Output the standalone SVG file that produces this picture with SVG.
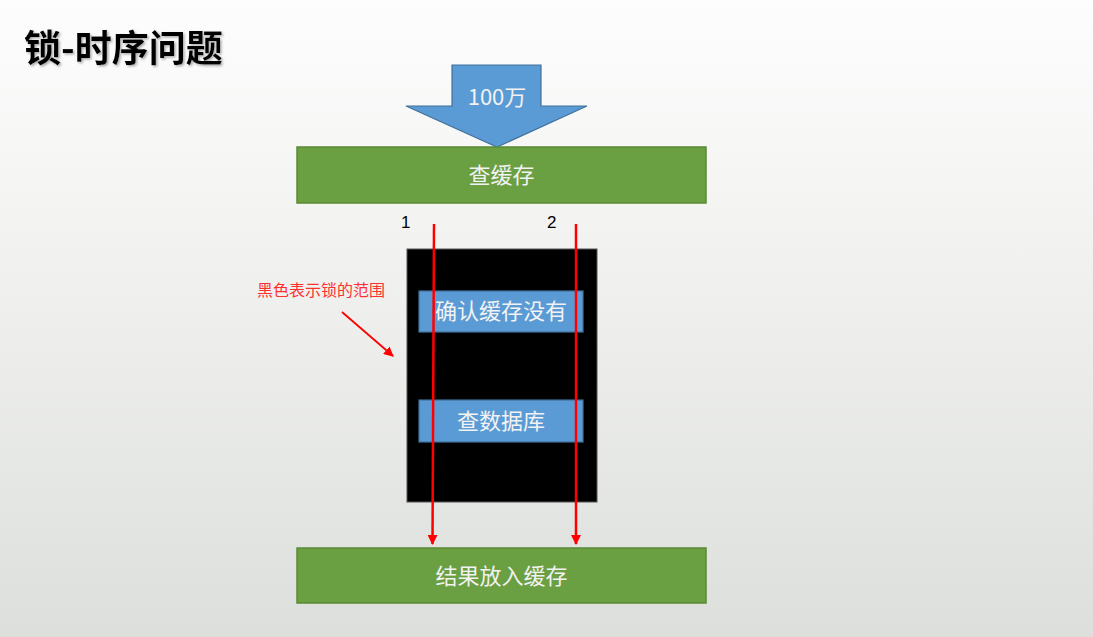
<svg xmlns="http://www.w3.org/2000/svg" width="1093" height="637" viewBox="0 0 1093 637">
<defs>
<linearGradient id="bg" x1="0" y1="0" x2="0" y2="1">
<stop offset="0" stop-color="#fdfdfd"/>
<stop offset="0.35" stop-color="#f3f4f2"/>
<stop offset="1" stop-color="#dddfdc"/>
</linearGradient>
<marker id="ah" viewBox="0 0 10 10" refX="9" refY="5" markerWidth="4" markerHeight="4" orient="auto" markerUnits="strokeWidth">
<path d="M0,0 L10,5 L0,10 z" fill="#ff0000"/>
</marker>
<marker id="ah2" viewBox="0 0 10 10" refX="9" refY="5" markerWidth="5.5" markerHeight="5.5" orient="auto" markerUnits="strokeWidth">
<path d="M0,0 L10,5 L0,10 z" fill="#ff0000"/>
</marker>
<filter id="sh" x="-5%" y="-20%" width="110%" height="140%">
<feDropShadow dx="1.5" dy="1.5" stdDeviation="0.8" flood-color="#888" flood-opacity="0.7"/>
</filter>
</defs>
<style>
.green{fill:#6a9f42;stroke:#5a8a36;stroke-width:1.5}
.blue{fill:#5b9bd5;stroke:#41719c;stroke-width:1.2}
.lbl{font-family:"Noto Sans CJK SC","Noto Sans",sans-serif;font-size:22px;fill:#f2f2f2;text-anchor:middle}
.num{font-family:"Liberation Sans",Arial,sans-serif;font-size:17px;fill:#000}
.conn{stroke:#ff0000;stroke-width:2.5;fill:none}
</style>
<rect width="1093" height="637" fill="url(#bg)"/>
<text x="24" y="62" font-family="'Noto Sans CJK SC','Noto Sans',sans-serif" font-size="37" font-weight="bold" fill="#000" filter="url(#sh)">锁-时序问题</text>

<g id="input-arrow">
<path class="blue" d="M452,65 L541,65 L541,106 L587,106 L497,147 L406,106 L452,106 z"/>
<text class="lbl" x="497" y="105">100万</text>
</g>

<g id="check-cache">
<rect class="green" x="297" y="147" width="409" height="56"/>
<text class="lbl" x="501.5" y="183">查缓存</text>
</g>

<g id="lock-scope">
<rect x="407" y="249" width="190" height="253" fill="#000" stroke="#555" stroke-width="1"/>
</g>

<g id="confirm-cache">
<rect class="blue" x="419" y="291" width="164" height="41"/>
<text class="lbl" x="501" y="319">确认缓存没有</text>
</g>

<g id="query-db">
<rect class="blue" x="419" y="400" width="164" height="42"/>
<text class="lbl" x="501" y="429">查数据库</text>
</g>

<g id="put-cache">
<rect class="green" x="297" y="548" width="409" height="55"/>
<text class="lbl" x="501.5" y="584">结果放入缓存</text>
</g>

<g id="labels">
<text class="num" x="401" y="228">1</text>
<text class="num" x="547" y="228">2</text>
<text x="257" y="296" font-family="'Noto Sans CJK SC','Noto Sans',sans-serif" font-size="16" fill="#ff3030">黑色表示锁的范围</text>
</g>

<g id="connectors">
<line class="conn" x1="434" y1="224" x2="432.5" y2="544" marker-end="url(#ah)"/>
<line class="conn" x1="576" y1="224" x2="576" y2="544" marker-end="url(#ah)"/>
<line x1="342" y1="312" x2="393" y2="356" stroke="#ff0000" stroke-width="1.8" marker-end="url(#ah2)"/>
</g>
</svg>
